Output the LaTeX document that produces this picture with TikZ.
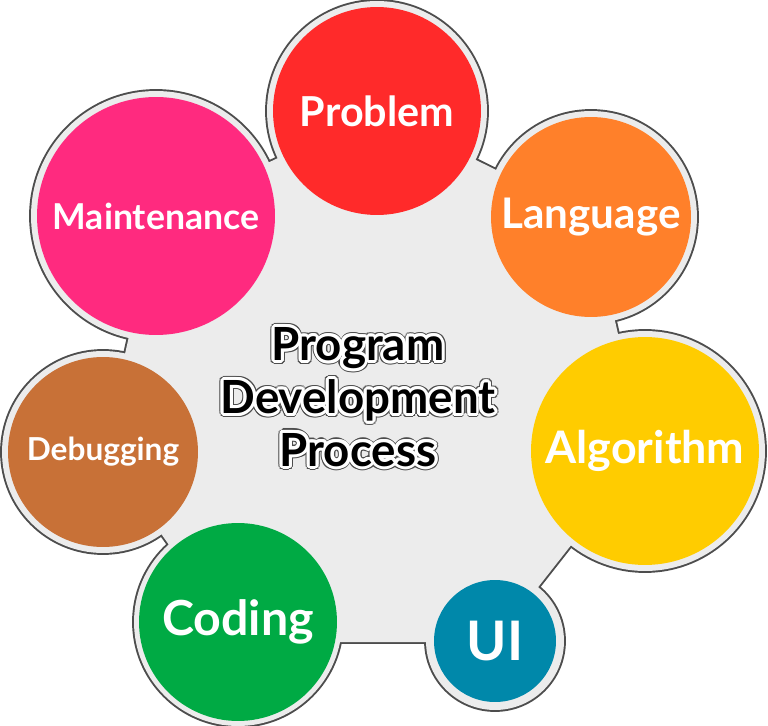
\documentclass[tikz,border=0pt]{standalone}
\usepackage{fontspec}
\setmainfont{Lato}
\usepackage{tikz}
\usetikzlibrary{positioning}
\usepackage{xcolor}

\definecolor{probred}{HTML}{FF2A2A}
\definecolor{langorange}{HTML}{FF802A}
\definecolor{algoyellow}{HTML}{FFCC00}
\definecolor{uiteal}{HTML}{0088AA}
\definecolor{codegreen}{HTML}{00AA44}
\definecolor{debugbrown}{HTML}{C87137}
\definecolor{maintpink}{HTML}{FF2A7F}
\definecolor{blobgray}{HTML}{ECECEC}
\definecolor{rimgray}{HTML}{4D4D4D}

\begin{document}
\begin{tikzpicture}[x=0.02cm, y=-0.02cm,
    stage/.style={circle, inner sep=0pt, text=white},
    rim/.style={draw=rimgray, line width=2.2pt},
    centertitle/.style={align=center, font=\bfseries\fontsize{26}{30}\selectfont}]
\useasboundingbox (0,0) rectangle (768,726);

% Centres of the stages
\coordinate (c-problem) at (377,111);
\coordinate (c-language) at (591,217);
\coordinate (c-algorithm) at (645,451);
\coordinate (c-ui) at (495,641);
\coordinate (c-coding) at (238,622);
\coordinate (c-debugging) at (103,452);
\coordinate (c-maintenance) at (156,216);
\coordinate (k-ui) at (495,642);
\coordinate (k-coding) at (238,642);

% Backdrop outline
\foreach \c/\r in {problem/2.20, language/2.12, algorithm/2.40, ui/1.38,
                   coding/2.08, debugging/2.02, maintenance/2.50}
  \draw[rim] (c-\c) circle (\r cm);
\draw[rim] (c-problem) -- (c-language) -- (c-algorithm) -- (k-ui) -- (k-coding)
  -- (c-debugging) -- (c-maintenance) -- cycle;

% Backdrop fill
\foreach \c/\r in {problem/2.20, language/2.12, algorithm/2.40, ui/1.38,
                   coding/2.08, debugging/2.02, maintenance/2.50}
  \fill[blobgray] (c-\c) circle (\r cm);
\fill[blobgray] (c-problem) -- (c-language) -- (c-algorithm) -- (k-ui) -- (k-coding)
  -- (c-debugging) -- (c-maintenance) -- cycle;

% Stages
\node[stage, fill=probred, minimum size=4.16cm, font=\bfseries\fontsize{23.5}{27}\selectfont] (problem) at (c-problem) {Problem};
\node[stage, fill=langorange, minimum size=4.0cm, font=\bfseries\fontsize{24}{28}\selectfont] (language) at (c-language) {Language};
\node[stage, fill=algoyellow, minimum size=4.56cm, font=\bfseries\fontsize{25.5}{29}\selectfont] (algorithm) at (c-algorithm) {Algorithm};
\node[stage, fill=uiteal, minimum size=2.44cm, font=\bfseries\fontsize{31}{35}\selectfont] (ui) at (c-ui) {UI};
\node[stage, fill=codegreen, minimum size=3.96cm, font=\bfseries\fontsize{27.5}{31}\selectfont] (coding) at (c-coding) {Coding};
\node[stage, fill=debugbrown, minimum size=3.8cm, font=\bfseries\fontsize{18}{22}\selectfont] (debugging) at (c-debugging) {Debugging};
\node[stage, fill=maintpink, minimum size=4.76cm, font=\bfseries\fontsize{20.3}{24}\selectfont] (maintenance) at (c-maintenance) {Maintenance};

% Title with outlined letters
\foreach \i in {1,...,16}
  \node[centertitle, text=rimgray, xshift={2.4pt*cos(22.5*\i)}, yshift={2.4pt*sin(22.5*\i)}]
    (edge\i) at (358,397) {Program\\Development\\Process};
\foreach \i in {1,...,16}
  \node[centertitle, text=white, xshift={1.7pt*cos(22.5*\i)}, yshift={1.7pt*sin(22.5*\i)}]
    (halo\i) at (358,397) {Program\\Development\\Process};
\node[centertitle, text=black] (title) at (358,397) {Program\\Development\\Process};

\end{tikzpicture}
\end{document}
